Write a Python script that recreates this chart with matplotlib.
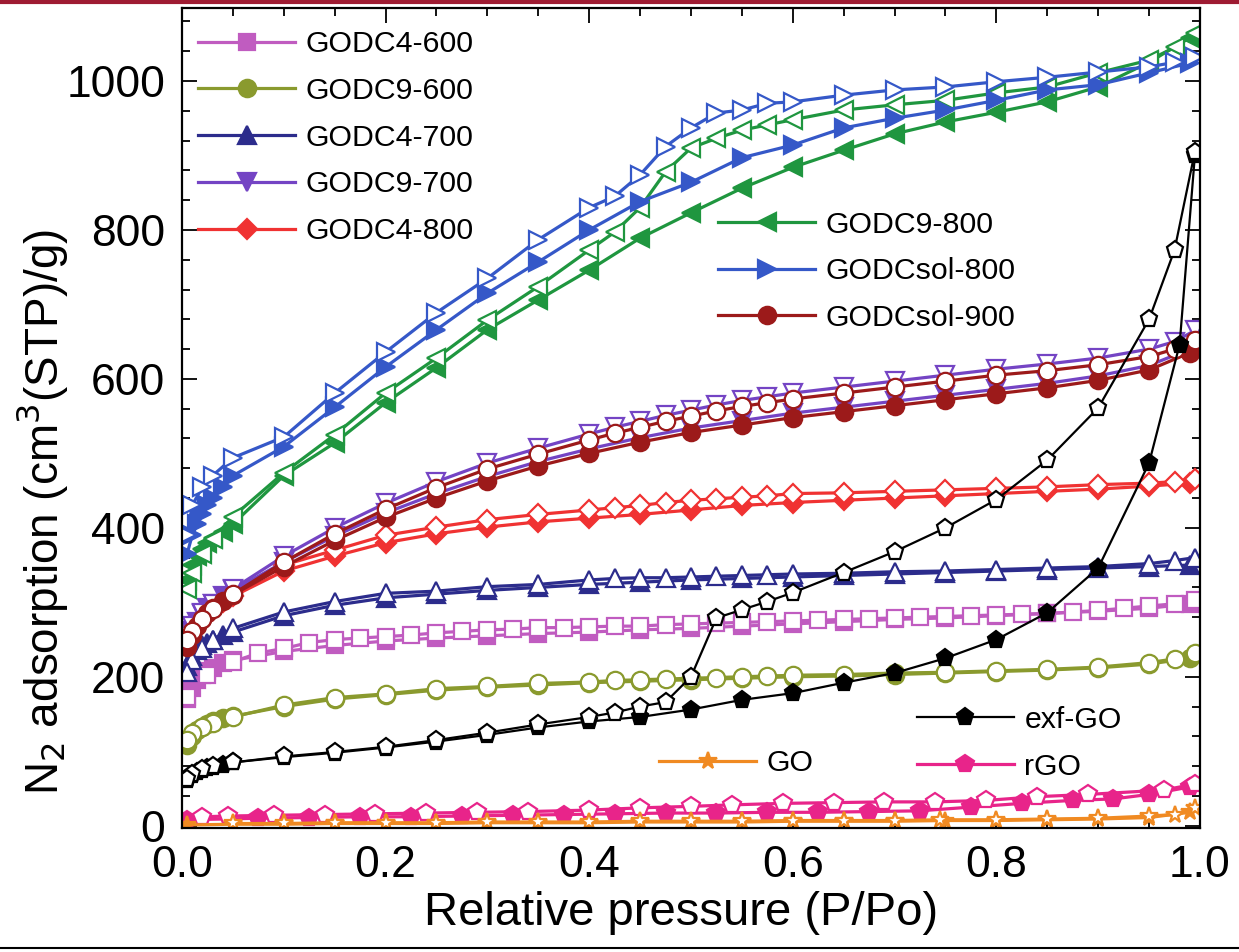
import matplotlib
matplotlib.use("Agg")
import matplotlib.pyplot as plt
from matplotlib.lines import Line2D
from matplotlib.ticker import MultipleLocator

# relative pressure grids (P/Po)
P_ADS = [0.005, 0.01, 0.015, 0.02, 0.025, 0.03, 0.04, 0.05, 0.1, 0.15, 0.2,
         0.25, 0.3, 0.35, 0.4, 0.45, 0.5, 0.55, 0.6, 0.65, 0.7, 0.75, 0.8,
         0.85, 0.9, 0.95, 0.99]
P_DES = [0.995, 0.975, 0.95, 0.9, 0.85, 0.8, 0.75, 0.7, 0.65, 0.6, 0.575,
         0.55, 0.525, 0.5, 0.475, 0.45, 0.425, 0.4, 0.35, 0.3, 0.25, 0.2,
         0.15, 0.1, 0.05, 0.03, 0.02, 0.01, 0.005]
P_DES_SQ = [0.995, 0.975, 0.95, 0.925, 0.9, 0.875, 0.85, 0.825, 0.8, 0.775,
            0.75, 0.725, 0.7, 0.675, 0.65, 0.625, 0.6, 0.575, 0.55, 0.525,
            0.5, 0.475, 0.45, 0.425, 0.4, 0.375, 0.35, 0.325, 0.3, 0.275,
            0.25, 0.225, 0.2, 0.175, 0.15, 0.125, 0.1, 0.075, 0.05, 0.025,
            0.005]
P_EXF_ADS = [0.005, 0.01, 0.015, 0.02, 0.025, 0.03, 0.04, 0.05, 0.1, 0.15,
             0.2, 0.25, 0.3, 0.35, 0.4, 0.45, 0.5, 0.55, 0.6, 0.65, 0.7,
             0.75, 0.8, 0.85, 0.9, 0.95, 0.98, 0.995]
P_RGO_ADS = [0.005, 0.075, 0.125, 0.175, 0.225, 0.275, 0.325, 0.375, 0.425,
             0.475, 0.525, 0.575, 0.625, 0.675, 0.725, 0.775, 0.825, 0.875,
             0.915, 0.95, 0.99]
P_RGO_DES = [0.995, 0.965, 0.89, 0.84, 0.79, 0.74, 0.69, 0.64, 0.59, 0.54,
             0.5, 0.45, 0.4, 0.34, 0.29, 0.24, 0.19, 0.14, 0.09, 0.045, 0.02]
P_GO_ADS = [0.005, 0.05, 0.1, 0.15, 0.2, 0.25, 0.3, 0.35, 0.4, 0.45, 0.5,
            0.55, 0.6, 0.65, 0.7, 0.75, 0.8, 0.85, 0.9, 0.95, 0.99]
P_GO_DES = [0.995, 0.975, 0.95, 0.9, 0.85, 0.8, 0.745, 0.7, 0.65, 0.6,
            0.55, 0.5, 0.45, 0.4, 0.35, 0.3, 0.25, 0.2, 0.15, 0.1, 0.05]

# N2 uptake, cm3(STP)/g  (ads = filled symbols, des = open symbols)
GODC4_600_ADS = [170, 185, 195, 203, 208, 212, 218, 222, 234, 242, 248, 252,
                 255, 258, 260, 263, 265, 268, 271, 274, 277, 279, 282, 285,
                 288, 292, 298]
GODC4_600_DES = [303, 298, 295, 292, 289, 287, 285, 284, 283, 282, 281, 280,
                 279, 278, 277, 276, 275, 274, 273, 272, 271, 270, 268, 268,
                 267, 266, 266, 264, 263, 261, 259, 256, 254, 252, 250, 246,
                 238, 232, 220, 203, 173]

GODC9_600_ADS = [108, 120, 128, 133, 137, 140, 144, 147, 160, 170, 176, 182,
                 186, 189, 192, 194, 196, 198, 200, 201, 203, 205, 207, 209,
                 212, 217, 225]
GODC9_600_DES = [232, 224, 219, 213, 210, 208, 206, 205, 203, 202, 201, 200,
                 199, 198, 197, 196, 195, 193, 191, 187, 184, 177, 172, 162,
                 146, 138, 132, 125, 115]

GODC4_700_ADS = [215, 228, 236, 242, 246, 250, 256, 260, 282, 296, 306, 311,
                 316, 320, 324, 327, 330, 332, 334, 336, 338, 340, 342, 344,
                 346, 348, 350]
GODC4_700_DES = [360, 356, 352, 348, 346, 344, 342, 341, 339, 338, 337, 336,
                 335, 334, 333, 333, 332, 330, 324, 321, 315, 312, 301, 287,
                 265, 250, 238, 222, 207]

GODC9_700_ADS = [246, 262, 274, 284, 292, 298, 308, 316, 354, 389, 420, 446,
                 469, 489, 506, 521, 534, 544, 554, 562, 570, 578, 586, 594,
                 604, 618, 640]
GODC9_700_DES = [665, 650, 640, 628, 620, 613, 605, 597, 589, 581, 576, 571,
                 565, 558, 551, 543, 535, 526, 507, 487, 462, 433, 400, 362,
                 318, 298, 285, 268, 255]

GODC4_800_ADS = [250, 262, 272, 280, 287, 292, 300, 308, 342, 362, 380, 392,
                 401, 408, 413, 418, 424, 430, 434, 437, 440, 443, 446, 449,
                 452, 456, 460]
GODC4_800_DES = [465, 462, 460, 458, 455, 453, 451, 449, 447, 446, 443, 441,
                 439, 437, 434, 430, 427, 424, 418, 411, 401, 390, 370, 350,
                 315, 290, 278, 265, 255]

GODC9_800_ADS = [330, 350, 362, 372, 380, 386, 394, 405, 470, 514, 568, 615,
                 666, 706, 746, 789, 823, 856, 884, 907, 929, 945, 958, 972,
                 992, 1025, 1058]
GODC9_800_DES = [1064, 1045, 1028, 1011, 992, 984, 974, 968, 961, 948, 941,
                 934, 923, 910, 878, 830, 797, 773, 724, 679, 628, 581, 525,
                 474, 415, 385, 365, 340, 318]

GODCSOL_800_ADS = [365, 390, 405, 418, 430, 440, 455, 470, 509, 562, 616,
                   666, 715, 757, 800, 838, 864, 897, 914, 937, 950, 961, 974,
                   988, 995, 1011, 1024]
GODCSOL_800_DES = [1032, 1025, 1019, 1012, 1005, 999, 992, 988, 981, 972,
                   970, 961, 957, 937, 912, 874, 845, 830, 787, 735, 689, 636,
                   581, 522, 494, 470, 455, 430, 390]

GODCSOL_900_ADS = [240, 256, 268, 278, 286, 292, 302, 310, 348, 383, 414,
                   440, 463, 483, 500, 515, 528, 538, 548, 556, 564, 572, 580,
                   588, 598, 612, 635]
GODCSOL_900_DES = [652, 640, 630, 619, 611, 605, 597, 589, 581, 573, 568,
                   563, 557, 550, 543, 535, 527, 518, 499, 479, 454, 425, 392,
                   354, 311, 291, 278, 262, 250]

EXF_GO_ADS = [62, 68, 72, 75, 77, 79, 82, 85, 92, 98, 105, 113, 122, 132, 140,
              146, 156, 169, 178, 192, 205, 225, 250, 286, 346, 487, 646, 900]
EXF_GO_DES = [905, 773, 680, 561, 491, 438, 400, 368, 340, 313, 301, 290, 279,
              200, 166, 160, 152, 146, 136, 125, 115, 106, 99, 93, 85, 80, 76,
              70, 63]

RGO_ADS = [8, 10, 11, 12, 12, 13, 14, 15, 16, 17, 17, 18, 18, 19, 20, 25, 30,
           34, 36, 42, 52]
RGO_DES = [56, 48, 42, 39, 34, 32, 32, 31, 30, 28, 26, 24, 21, 19, 18, 17, 16,
           15, 14, 13, 12]

GO_ADS = [1, 2, 2, 3, 3, 3, 4, 4, 4, 5, 5, 5, 6, 6, 6, 7, 7, 8, 9, 11, 18]
GO_DES = [24, 15, 13, 10, 9, 8, 8, 7, 7, 7, 6, 6, 6, 5, 5, 5, 4, 4, 4, 3, 3]

FONT = "Liberation Sans"


def isotherm(ax, p_a, v_a, p_d, v_d, color, marker, ms, lw=2.3):
    # filled = adsorption, open = desorption
    line, = ax.plot(p_a, v_a, color=color, marker=marker, ms=ms, mfc=color,
                    mec=color, mew=1.6, lw=lw)
    ax.plot(p_d, v_d, color=color, marker=marker, ms=ms, mfc="white",
            mec=color, mew=1.6, lw=lw)
    return line


def main():
    plt.rcParams["font.family"] = [FONT, "DejaVu Sans"]

    fig = plt.figure(figsize=(12.39, 9.52), dpi=100)
    ax = fig.add_axes([0.1469, 0.1303, 0.8216, 0.8613])

    h = {}
    h["GODC4-600"] = isotherm(ax, P_ADS, GODC4_600_ADS, P_DES_SQ,
                              GODC4_600_DES, "#C05CC0", "s", 11)
    h["GODC9-600"] = isotherm(ax, P_ADS, GODC9_600_ADS, P_DES,
                              GODC9_600_DES, "#8A9A2E", "o", 12.5)
    h["GODC4-700"] = isotherm(ax, P_ADS, GODC4_700_ADS, P_DES,
                              GODC4_700_DES, "#2C2C8C", "^", 12.5)
    h["GODC4-800"] = isotherm(ax, P_ADS, GODC4_800_ADS, P_DES,
                              GODC4_800_DES, "#F03232", "D", 10)
    h["GODC9-700"] = isotherm(ax, P_ADS, GODC9_700_ADS, P_DES,
                              GODC9_700_DES, "#7444C4", "v", 12.5)
    h["GODCsol-900"] = isotherm(ax, P_ADS, GODCSOL_900_ADS, P_DES,
                                GODCSOL_900_DES, "#9C1A1A", "o", 12.5)
    h["GODC9-800"] = isotherm(ax, P_ADS, GODC9_800_ADS, P_DES,
                              GODC9_800_DES, "#1F963F", "<", 12.5)
    h["GODCsol-800"] = isotherm(ax, P_ADS, GODCSOL_800_ADS, P_DES,
                                GODCSOL_800_DES, "#3558C8", ">", 12.5)
    h["exf-GO"] = isotherm(ax, P_EXF_ADS, EXF_GO_ADS, P_DES, EXF_GO_DES,
                           "black", "p", 12.5, lw=1.6)
    h["rGO"] = isotherm(ax, P_RGO_ADS, RGO_ADS, P_RGO_DES, RGO_DES,
                        "#E8248A", "p", 13)
    h["GO"] = isotherm(ax, P_GO_ADS, GO_ADS, P_GO_DES, GO_DES,
                       "#F08A22", "*", 13)

    # axes, ticks
    ax.set_xlim(0, 1.0)
    ax.set_ylim(-3, 1098)
    ax.xaxis.set_major_locator(MultipleLocator(0.2))
    ax.xaxis.set_minor_locator(MultipleLocator(0.05))
    ax.yaxis.set_major_locator(MultipleLocator(200))
    ax.yaxis.set_minor_locator(MultipleLocator(40))
    ax.tick_params(which="both", direction="in", top=True, right=True,
                   width=1.3, labelsize=32)
    ax.tick_params(which="major", length=11)
    ax.tick_params(which="minor", length=6)
    ax.tick_params(axis="y", pad=12)
    ax.tick_params(axis="x", pad=12)
    ax.xaxis.set_major_formatter(plt.FuncFormatter(lambda v, p: "%.1f" % v))
    for s in ax.spines.values():
        s.set_linewidth(1.6)

    ax.set_xlabel("Relative pressure (P/Po)", fontsize=34)
    ax.xaxis.set_label_coords(0.49, -0.077)
    ax.set_ylabel("N$_2$ adsorption (cm$^3$(STP)/g)", fontsize=33)
    ax.yaxis.set_label_coords(-0.11, 0.385)

    # legends
    leg_kw = dict(frameon=False, numpoints=1, fontsize=21.8, handlelength=3.2,
                  handletextpad=0.35, labelspacing=0.62, borderpad=0,
                  borderaxespad=0, loc="upper left")
    names1 = ["GODC4-600", "GODC9-600", "GODC4-700", "GODC9-700", "GODC4-800"]
    names2 = ["GODC9-800", "GODCsol-800", "GODCsol-900"]
    names3 = ["exf-GO", "rGO"]
    leg1 = ax.legend([h[n] for n in names1], names1,
                     bbox_to_anchor=(0.016, 0.973), **leg_kw)
    leg2 = ax.legend([h[n] for n in names2], names2,
                     bbox_to_anchor=(0.527, 0.753), **leg_kw)
    leg3 = ax.legend([h[n] for n in names3], names3,
                     bbox_to_anchor=(0.722, 0.149), **leg_kw)
    leg4 = ax.legend([h["GO"]], ["GO"],
                     bbox_to_anchor=(0.469, 0.096), **leg_kw)
    ax.add_artist(leg1)
    ax.add_artist(leg2)
    ax.add_artist(leg3)

    # frame lines of the original page
    fig.add_artist(Line2D([0, 1], [0.998, 0.998], color="#9E1B32", lw=3))
    fig.add_artist(Line2D([0, 1], [0.004, 0.004], color="black", lw=1.5))

    fig.savefig("out.png", dpi=100)


main()
